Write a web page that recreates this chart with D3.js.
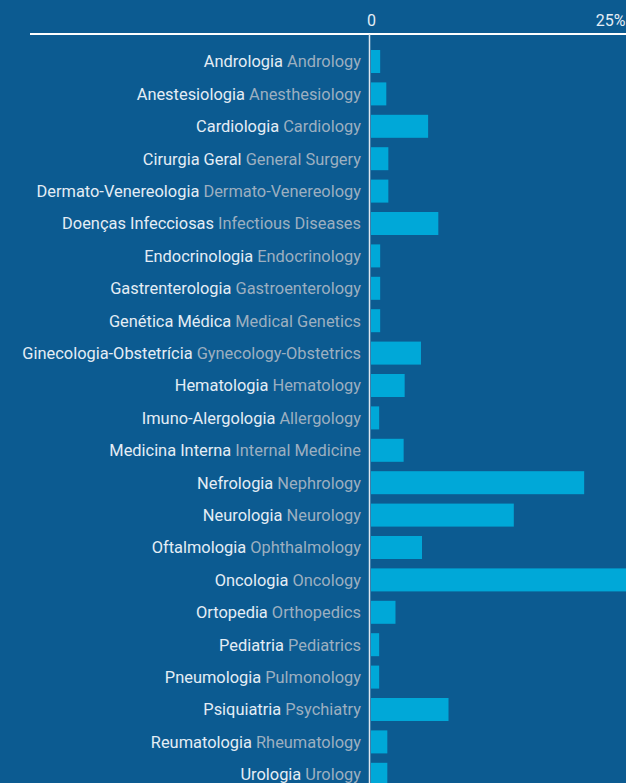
<!DOCTYPE html>
<html>
<head>
<meta charset="utf-8">
<script src="https://cdn.jsdelivr.net/npm/d3@7"></script>
<style>
  body { margin: 0; background: #0c5b91; }
  #chart { width: 626px; height: 783px; overflow: hidden; }
</style>
</head>
<body>
<div id="chart"></div>
<script>
// Data
const specialtiesPt = ['Andrologia', 'Anestesiologia', 'Cardiologia', 'Cirurgia Geral', 'Dermato-Venereologia',
  'Doenças Infecciosas', 'Endocrinologia', 'Gastrenterologia', 'Genética Médica', 'Ginecologia-Obstetrícia',
  'Hematologia', 'Imuno-Alergologia', 'Medicina Interna', 'Nefrologia', 'Neurologia', 'Oftalmologia',
  'Oncologia', 'Ortopedia', 'Pediatria', 'Pneumologia', 'Psiquiatria', 'Reumatologia', 'Urologia']
const specialtiesEn = ['Andrology', 'Anesthesiology', 'Cardiology', 'General Surgery', 'Dermato-Venereology',
  'Infectious Diseases', 'Endocrinology', 'Gastroenterology', 'Medical Genetics', 'Gynecology-Obstetrics',
  'Hematology', 'Allergology', 'Internal Medicine', 'Nephrology', 'Neurology', 'Ophthalmology',
  'Oncology', 'Orthopedics', 'Pediatrics', 'Pulmonology', 'Psychiatry', 'Rheumatology', 'Urology']
const shares = [0.9, 1.5, 5.6, 1.7, 1.7, 6.6, 0.9, 0.9, 0.9, 4.9, 3.3, 0.8, 3.2, 20.9, 14.0, 5.0,
  25.0, 2.4, 0.8, 0.8, 7.6, 1.6, 1.6]
const tickValues = [0, 25]

const data = specialtiesPt.map((pt, i) => ({ pt: pt, en: specialtiesEn[i], value: shares[i] }))

// Dimensions
let dimensions = {
  width: 626,
  height: 783,
  axisY: 34,
  zeroX: 370,
  right: 625
}

const svg = d3.select('#chart')
              .append('svg')
              .attr('width', dimensions.width)
              .attr('height', dimensions.height)
              .style('font-family', 'Roboto')

// Scales
const xScale = d3.scaleLinear()
                 .domain([0, 25])
                 .range([dimensions.zeroX, dimensions.right])

const yScale = d3.scaleBand()
                 .domain(data.map(d => d.pt))
                 .range([40.6, 795.2])
                 .padding(0.29)

// Bars
svg.selectAll('rect.bar')
   .data(data)
   .join('rect')
   .attr('class', 'bar')
   .attr('x', xScale(0) + 1)
   .attr('y', d => yScale(d.pt))
   .attr('width', d => xScale(d.value) - xScale(0))
   .attr('height', yScale.bandwidth())
   .attr('fill', '#00a8d8')

// Labels
const labels = svg.selectAll('text.label')
   .data(data)
   .join('text')
   .attr('class', 'label')
   .attr('x', xScale(0) - 9)
   .attr('y', d => yScale(d.pt) + yScale.bandwidth() / 2)
   .attr('dy', '0.36em')
   .attr('text-anchor', 'end')
   .attr('font-size', '16.4px')

labels.append('tspan').attr('fill', '#e4edf5').text(d => d.pt + ' ')
labels.append('tspan').attr('fill', '#9cafc0').text(d => d.en)

// Axis
const xAxis = d3.axisTop(xScale)
                .tickValues(tickValues)
                .tickSize(0)
                .tickPadding(8)
                .tickFormat(d => d === 0 ? '0' : d + '%')

const axisGroup = svg.append('g')
   .attr('transform', `translate(0, ${dimensions.axisY})`)
   .call(xAxis)

axisGroup.select('.domain').remove()
axisGroup.selectAll('text')
   .attr('font-family', 'Roboto')
   .attr('font-size', '16px')
   .attr('fill', '#e4edf5')
   .attr('text-anchor', d => d === 25 ? 'end' : 'middle')
   .attr('dx', d => d === 0 ? 1 : 0)

svg.append('line')
   .attr('x1', 30)
   .attr('x2', dimensions.width)
   .attr('y1', dimensions.axisY)
   .attr('y2', dimensions.axisY)
   .attr('stroke', '#ffffff')
   .attr('stroke-width', 2)

svg.append('line')
   .attr('x1', xScale(0) - 0.5)
   .attr('x2', xScale(0) - 0.5)
   .attr('y1', dimensions.axisY)
   .attr('y2', dimensions.height)
   .attr('stroke', '#dfe7ef')
   .attr('stroke-width', 1.5)
</script>
</body>
</html>
